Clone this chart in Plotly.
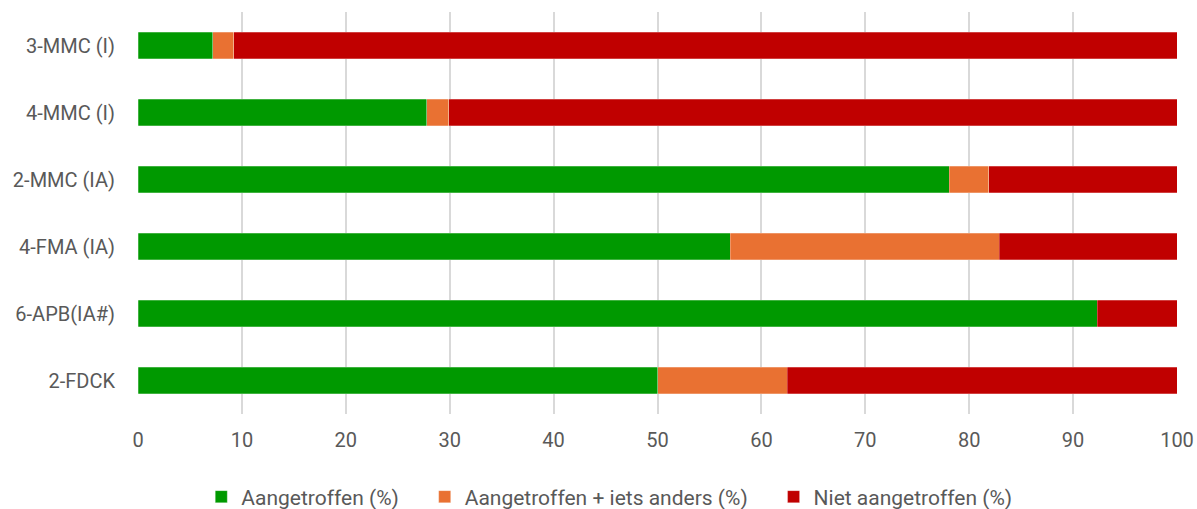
import plotly.graph_objects as go

categories = ["3-MMC (I)", "4-MMC (I)", "2-MMC (IA)", "4-FMA (IA)", "6-APB(IA#)", "2-FDCK"]
aangetroffen = [7.2, 27.8, 78.1, 57.0, 92.3, 50.0]
aangetroffen_iets = [2.0, 2.1, 3.8, 25.9, 0.0, 12.5]
niet_aangetroffen = [90.8, 70.1, 18.1, 17.1, 7.7, 37.5]
x_ticks = list(range(0, 101, 10))

pad = "\u00a0" * 4
series = [
    ("Aangetroffen (%)" + pad, aangetroffen, "#009900"),
    ("Aangetroffen + iets anders (%)" + pad, aangetroffen_iets, "#E97132"),
    ("Niet aangetroffen (%)", niet_aangetroffen, "#C00000"),
]

fig = go.Figure()
for name, vals, color in series:
    fig.add_trace(go.Bar(
        y=categories, x=vals, name=name, orientation="h",
        marker=dict(color=color, line=dict(color="rgba(255,255,255,0.5)", width=0.5)),
    ))

fig.update_layout(
    barmode="stack",
    bargap=0.6,
    width=1197, height=509,
    margin=dict(l=138, r=20, t=12, b=95, autoexpand=False),
    plot_bgcolor="white", paper_bgcolor="white",
    font=dict(family="Roboto", size=20, color="#595959"),
    legend=dict(orientation="h", xref="container", x=0.509, xanchor="center",
                yref="container", y=0.0236, yanchor="middle",
                font=dict(family="Roboto", size=21, color="#595959"),
                traceorder="normal", itemwidth=30),
    showlegend=True,
)
fig.update_xaxes(range=[0, 100], tickvals=x_ticks, showgrid=True, gridcolor="#D9D9D9",
                 gridwidth=1.5, zeroline=False, showline=False, ticks="",
                 ticklabelstandoff=12, automargin=False)
fig.update_yaxes(categoryorder="array", categoryarray=categories, autorange="reversed",
                 showgrid=False, ticks="", ticklabelstandoff=22, automargin=False)

fig.write_html("out.html", config={"displayModeBar": False},
               post_script="document.body.style.margin='0';document.body.style.overflow='hidden';")
